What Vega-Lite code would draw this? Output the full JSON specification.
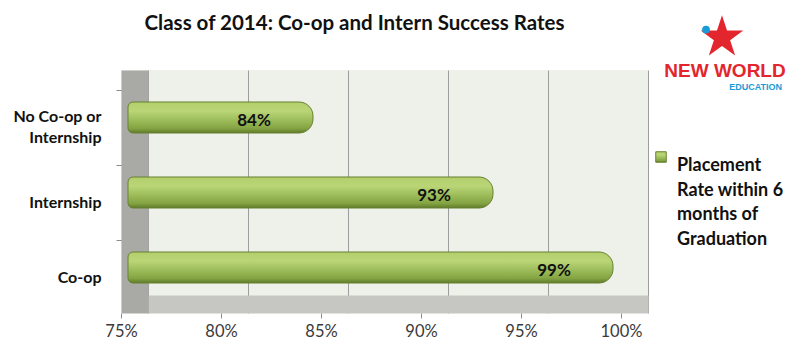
{
  "$schema": "https://vega.github.io/schema/vega-lite/v6.json",
  "autosize": {"type": "none"},
  "width": 527,
  "height": 243,
  "padding": {"left": 121, "top": 70, "right": 152, "bottom": 40},
  "background": "white",
  "config": {"view": {"stroke": null, "fill": "#eef0ea"}, "font": "Lato", "style": {"guide-label": {"lineHeight": 24.5}}},
  "title": {"text": "Class of 2014: Co-op and Intern Success Rates", "font": "Lato", "fontSize": 20.5, "fontWeight": "bold", "color": "#111111", "anchor": "middle", "frame": "group", "dx": -30, "offset": -35, "baseline": "alphabetic"},
  "data": {"values": [
    {"cat": "No Co-op or Internship", "rate": 0.84},
    {"cat": "Internship", "rate": 0.93},
    {"cat": "Co-op", "rate": 0.99}
  ]},
  "resolve": {"axis": {"x": "independent", "y": "independent"}},
  "layer": [
    {
      "mark": {"type": "bar", "size": 31, "xOffset": -15, "x2Offset": -20, "yOffset": 10, "cornerRadiusEnd": 14, "cornerRadiusTopLeft": 5, "cornerRadiusBottomLeft": 5, "strokeWidth": 1,
        "fill": {"gradient": "linear", "x1": 0, "y1": 0, "x2": 0, "y2": 1, "stops": [
          {"offset": 0, "color": "#b3cf6c"},
          {"offset": 0.3, "color": "#b9d577"},
          {"offset": 0.6, "color": "#9bbb59"},
          {"offset": 0.85, "color": "#84a443"},
          {"offset": 1, "color": "#5f7a2a"}]}},
      "encoding": {
        "y": {"field": "cat", "type": "nominal", "sort": ["No Co-op or Internship", "Internship", "Co-op"],
          "scale": {"paddingInner": 0, "paddingOuter": 0.12, "align": 0},
          "axis": {"orient": "left", "title": null, "domain": false, "ticks": false, "grid": false, "labelPadding": 20, "tickOffset": 20, "labelFont": "Lato", "labelFontSize": 16, "labelFontWeight": "bold", "labelColor": "#111111", "labelAlign": "right", "labelLineHeight": 21, "labelLimit": 200,
            "labelOffset": {"condition": {"test": "datum.value == 'No Co-op or Internship'", "value": -11}, "value": 0},
            "labelExpr": "datum.value == 'No Co-op or Internship' ? ['No Co-op or', 'Internship'] : datum.value"}},
        "x": {"field": "rate", "type": "quantitative",
          "scale": {"domain": [0.75, 1], "range": [27, 527], "nice": false, "zero": false},
          "axis": {"orient": "bottom", "title": null, "domain": false, "grid": false, "ticks": true, "tickSize": 5, "tickColor": "#8c8c8c", "tickOffset": -27, "values": [0.75, 0.8, 0.85, 0.9, 0.95, 1], "format": ".0%", "labelFlush": false, "labelOverlap": false, "labelFont": "Lato", "labelFontSize": 16.5, "labelColor": "#3a3a3a", "labelPadding": 5}},
        "x2": {"datum": 0.75},
        "stroke": {"datum": "Placement Rate within 6 months of Graduation", "type": "nominal", "scale": {"range": ["#66812f"]},
          "legend": {"orient": "none", "legendX": 531, "legendY": 78, "title": null, "padding": 0, "symbolType": "square", "symbolSize": 110, "symbolFillColor": "#9bbb59", "symbolStrokeColor": "#66812f", "symbolStrokeWidth": 1, "labelFont": "Lato", "labelFontSize": 18, "labelFontWeight": "bold", "labelColor": "#111111", "labelBaseline": "top", "labelOffset": 7, "labelLimit": 300,
            "labelExpr": "['Placement', 'Rate within 6', 'months of', 'Graduation']"}}
      }
    },
    {
      "mark": {"type": "text", "dx": -74, "dy": 13, "font": "Lato", "fontSize": 17, "fontWeight": "bold", "color": "#111111", "baseline": "middle", "align": "center"},
      "encoding": {
        "y": {"field": "cat", "type": "nominal", "sort": ["No Co-op or Internship", "Internship", "Co-op"],
          "axis": {"orient": "left", "title": null, "labels": false, "grid": false, "domain": true, "domainColor": "#a9aaa5", "domainWidth": 27, "offset": -13.5, "ticks": true, "tickSize": 18.5, "tickColor": "#8c8c8c", "bandPosition": 0, "tickOffset": 20}},
        "x": {"field": "rate", "type": "quantitative",
          "axis": {"orient": "bottom", "title": null, "labels": false, "ticks": false, "grid": true, "gridColor": "#9d9d9d", "gridWidth": 1, "domain": true, "domainColor": "#c6c7c2", "domainWidth": 18, "offset": -9, "values": [0.75, 0.8, 0.85, 0.9, 0.95, 1]}},
        "text": {"field": "rate", "type": "quantitative", "format": ".0%"}
      }
    },
    {
      "data": {"values": [{"t": "NEW WORLD"}]},
      "mark": {"type": "text", "font": "Liberation Sans", "fontWeight": "bold", "fontSize": 19, "color": "#e3262d", "align": "center", "baseline": "alphabetic", "dx": 77, "dy": -30.5},
      "encoding": {
        "x": {"datum": 1, "axis": null},
        "y": {"datum": "No Co-op or Internship", "axis": null},
        "text": {"field": "t"}
      }
    },
    {
      "data": {"values": [{"t": "EDUCATION"}]},
      "mark": {"type": "text", "font": "Liberation Sans", "fontWeight": "bold", "fontSize": 9, "color": "#1a9ad6", "align": "right", "baseline": "alphabetic", "dx": 134, "dy": -17.5},
      "encoding": {
        "x": {"datum": 1, "axis": null},
        "y": {"datum": "No Co-op or Internship", "axis": null},
        "text": {"field": "t"}
      }
    },
    {
      "data": {"values": [{"t": "star"}]},
      "mark": {"type": "point", "shape": "M0,-1L0.225,-0.309L0.951,-0.309L0.363,0.118L0.588,0.809L0,0.382L-0.588,0.809L-0.363,0.118L-0.951,-0.309L-0.225,-0.309Z", "filled": true, "fill": "#e3262d", "opacity": 1, "strokeWidth": 0, "size": 2000, "xOffset": 74, "yOffset": -70},
      "encoding": {
        "x": {"datum": 1, "axis": null},
        "y": {"datum": "No Co-op or Internship", "axis": null}
      }
    },
    {
      "data": {"values": [{"t": "head"}]},
      "mark": {"type": "point", "shape": "circle", "filled": true, "fill": "#1a9ad6", "opacity": 1, "strokeWidth": 0, "size": 60, "xOffset": 58, "yOffset": -78},
      "encoding": {
        "x": {"datum": 1, "axis": null},
        "y": {"datum": "No Co-op or Internship", "axis": null}
      }
    }
  ]
}
